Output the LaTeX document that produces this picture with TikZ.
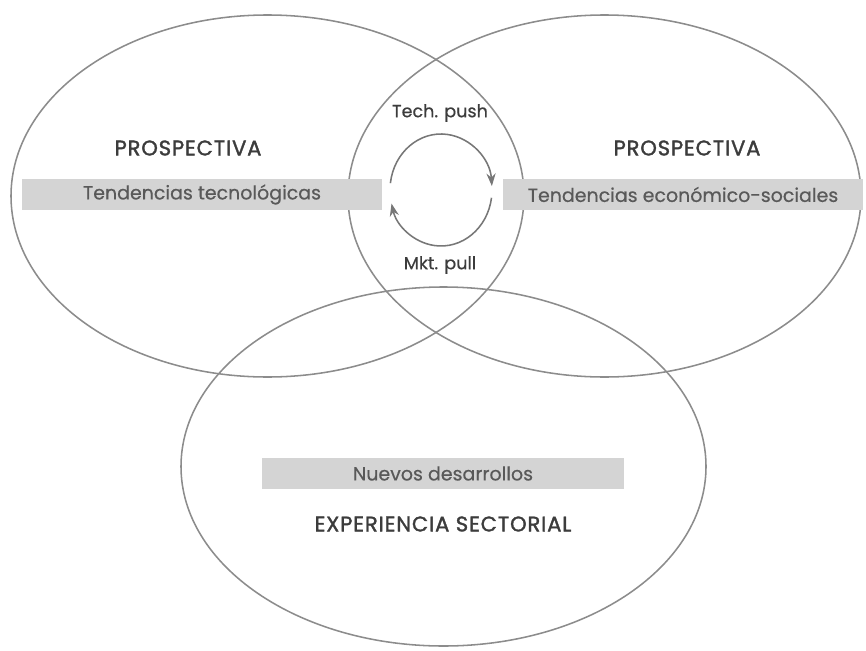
\documentclass[tikz,border=0pt]{standalone}
\usepackage{fontspec}
\setmainfont{Poppins}
\newfontfamily\headfont{Poppins}[FakeBold=1.6,LetterSpace=4]
\newfontfamily\bodyfont{Poppins}[FakeBold=0.5]
\usetikzlibrary{arrows.meta}
\definecolor{ringgray}{HTML}{8C8C8C}
\definecolor{bandgray}{HTML}{D4D4D4}
\definecolor{inkgray}{HTML}{3C3C3C}
\begin{document}
\begin{tikzpicture}[x=0.025cm,y=-0.025cm,
    ring/.style={draw=ringgray,line width=1.1pt},
    band/.style={fill=bandgray,text=inkgray!85,inner sep=0pt,minimum height=0.78cm,font=\bodyfont\fontsize{13.5}{16}\selectfont},
    title/.style={text=inkgray,font=\headfont\fontsize{15}{18}\selectfont},
    turn/.style={draw=ringgray!85!black,line width=1.1pt,-{Stealth[length=9pt,width=6.5pt]}},
    small/.style={text=inkgray,font=\bodyfont\fontsize{12.5}{15}\selectfont}]
    \useasboundingbox (0,0) rectangle (866,650);
    \draw[ring] (267.5,196) ellipse [x radius=256.5, y radius=181];
    \draw[ring] (604.5,196) ellipse [x radius=256.5, y radius=181];
    \draw[ring] (443.5,466.5) ellipse [x radius=262.5, y radius=179.5];

    \node[title] (prosL) at (188,148) {PROSPECTIVA};
    \node[band, minimum width=9cm] (tecno) at (202,194.5) {Tendencias tecnológicas};
    \node[title] (prosR) at (687,148) {PROSPECTIVA};
    \node[band, minimum width=9cm] (econ) at (683,194.5) {Tendencias económico-sociales};
    \node[band, minimum width=9.05cm] (nuevos) at (443,473.5) {Nuevos desarrollos};
    \node[title] (exper) at (443,524) {EXPERIENCIA SECTORIAL};

    \node[small] (push) at (440,113) {Tech. push};
    \node[small] (pull) at (440,265) {Mkt. pull};
    \coordinate (cyc) at (441,190);
    \draw[turn] ([shift={(187:51 and 56)}]cyc) arc [start angle=187, end angle=356, x radius=51, y radius=56];
    \draw[turn] ([shift={(8:51 and 56)}]cyc) arc [start angle=8, end angle=166, x radius=51, y radius=56];
\end{tikzpicture}
\end{document}
